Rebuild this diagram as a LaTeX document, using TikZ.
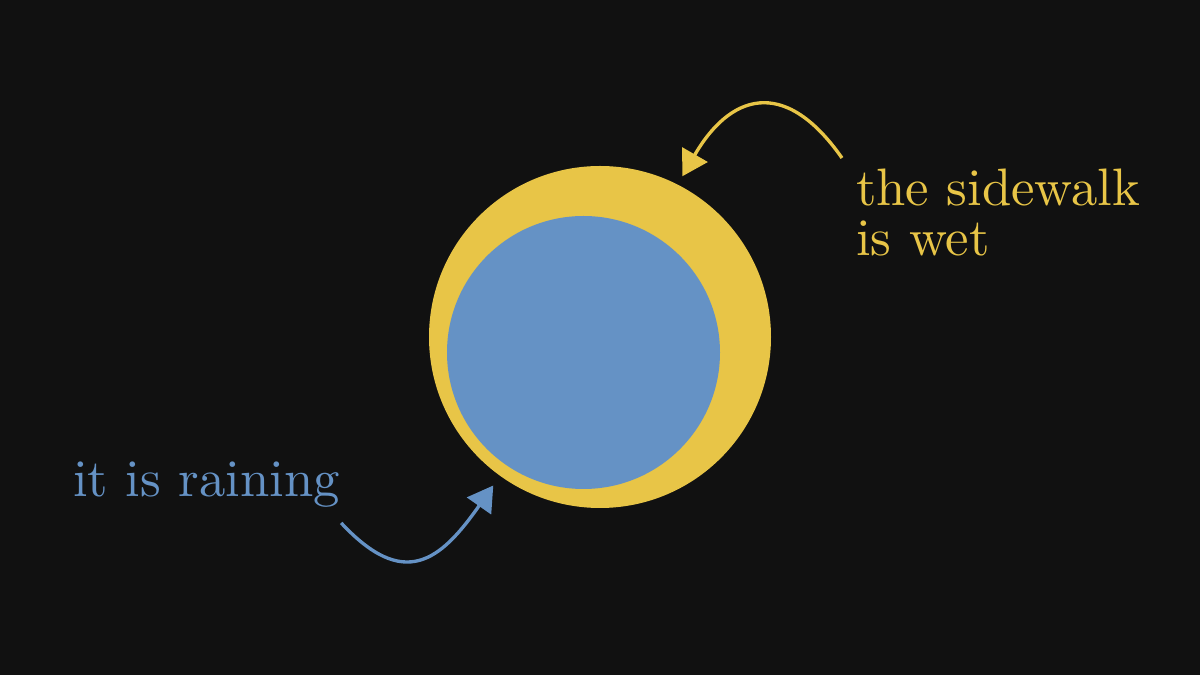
\documentclass[tikz,border=0pt]{standalone}
\usetikzlibrary{arrows.meta}
\definecolor{bgblack}{HTML}{111111}
\definecolor{wetyellow}{HTML}{E8C547}
\definecolor{rainblue}{HTML}{6592C5}
\begin{document}
\begin{tikzpicture}[every node/.style={inner sep=0pt},
    label/.style={scale=1.5, font=\fontsize{10}{9.47}\selectfont},
    arrow/.style={-{Triangle[length=0.25cm,width=0.29cm]}, line width=0.95pt}]{
    \useasboundingbox (0,0) rectangle (12,6.75);
    \fill [bgblack] (0,0) rectangle (12,6.75);

    \node [circle, fill=wetyellow, minimum size=3.42cm] (Sidewalk) at (6.00,3.38) {};
    \node [circle, fill=rainblue, minimum size=2.73cm] (Rain) at (5.835,3.225) {};
    \node [label, wetyellow, anchor=north west, align=left] (SidewalkLabel) at (8.55,5.07) {the sidewalk\\is wet};
    \node [label, rainblue, anchor=base west] (RainLabel) at (0.72,1.78) {it is raining};

    \path [arrow, wetyellow, shorten >=0.09cm] ([xshift=-0.13cm,yshift=0.1cm]SidewalkLabel.north west) edge [out=125, in=60, looseness=1.57] (Sidewalk.63.6);
    \path [arrow, rainblue, shorten >=0.235cm] ([yshift=-0.14cm]RainLabel.south east) edge [out=-47, in=235, out looseness=1.35, in looseness=1.7] (Rain.236.7);
}
\end{tikzpicture}
\end{document}
